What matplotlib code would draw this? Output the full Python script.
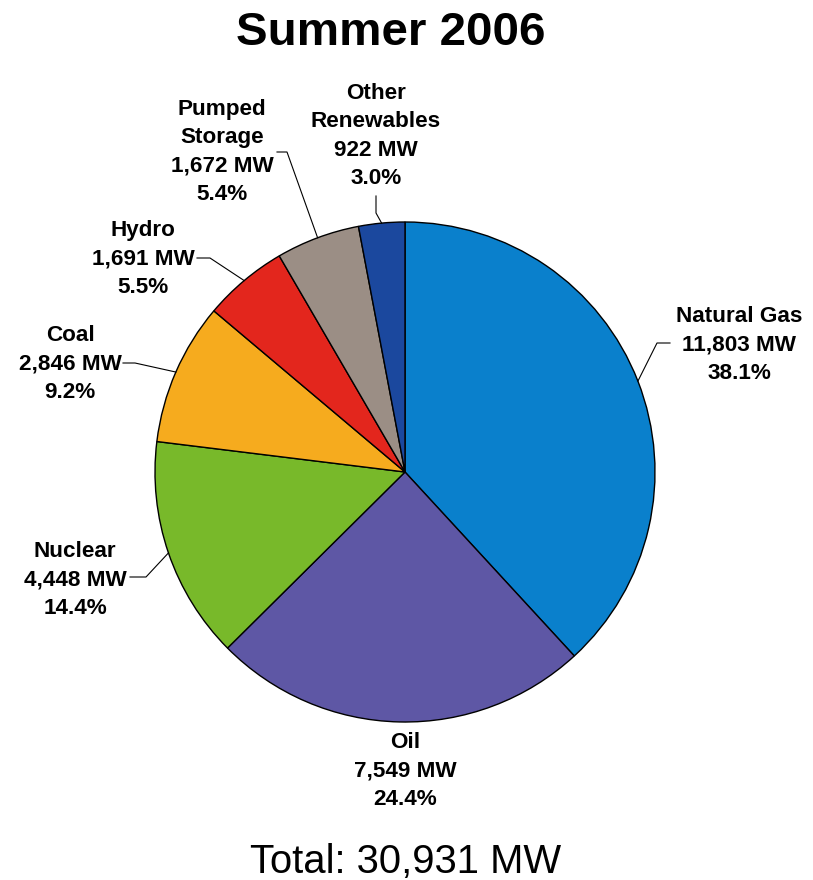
import numpy as np
import matplotlib.pyplot as plt

plt.rcParams['font.family'] = ['Liberation Sans', 'DejaVu Sans']

sources = ["Natural Gas", "Oil", "Nuclear", "Coal", "Hydro", "Pumped\nStorage", "Other\nRenewables"]
mw = [11803, 7549, 4448, 2846, 1691, 1672, 922]
pct = [38.1, 24.4, 14.4, 9.2, 5.5, 5.4, 3.0]
colors = ["#0a80cc", "#5e57a5", "#78b92a", "#f6ab1e", "#e3261d", "#9b8e85", "#1b489e"]
total = sum(mw)

W, H = 813, 880
fig = plt.figure(figsize=(W / 100, H / 100), dpi=100)
ax = fig.add_axes([0, 0, 1, 1])

def py(y):
    # pixel row (from top) -> data y
    return H - y

cx, cy, r = 405, 472, 250
wedges, _ = ax.pie(mw, colors=colors, startangle=90, counterclock=False,
                   center=(cx, py(cy)), radius=r,
                   wedgeprops=dict(edgecolor='black', linewidth=1.0))

# label centre, leader elbow, leader end (near text); None = no leader
layout = [
    ((739, 345), (657, 343), (670, 343)),
    ((405, 771), None, None),
    ((75, 580), (146, 577), (130, 577)),
    ((70, 364), (135, 363), (123, 363)),
    ((143, 259), (210, 258), (197, 258)),
    ((222, 152), (287, 152), (277, 152)),
    ((376, 136), (376, 213), (376, 196)),
]

for w, name, v, p, (pos, elbow, end) in zip(wedges, sources, mw, pct, layout):
    txt = f"{name}\n{v:,} MW\n{p:.1f}%"
    ax.text(pos[0], py(pos[1]), txt, ha='center', va='center', fontsize=16.2,
            fontweight='bold', linespacing=1.45)
    if elbow is not None:
        a = np.deg2rad((w.theta1 + w.theta2) / 2)
        ax_, ay_ = cx + r * np.cos(a), py(cy) + r * np.sin(a)
        ax.plot([ax_, elbow[0], end[0]], [ay_, py(elbow[1]), py(end[1])],
                color='black', lw=0.8)

ax.text(391, py(45), "Summer 2006", ha='center', va='baseline', fontsize=34.2,
        fontweight='bold')
ax.text(406, py(873), f"Total: {total:,} MW", ha='center', va='baseline', fontsize=28.8)

ax.set_xlim(0, W)
ax.set_ylim(0, H)
ax.set_aspect('auto')
ax.axis('off')
fig.savefig('out.png', dpi=100)
